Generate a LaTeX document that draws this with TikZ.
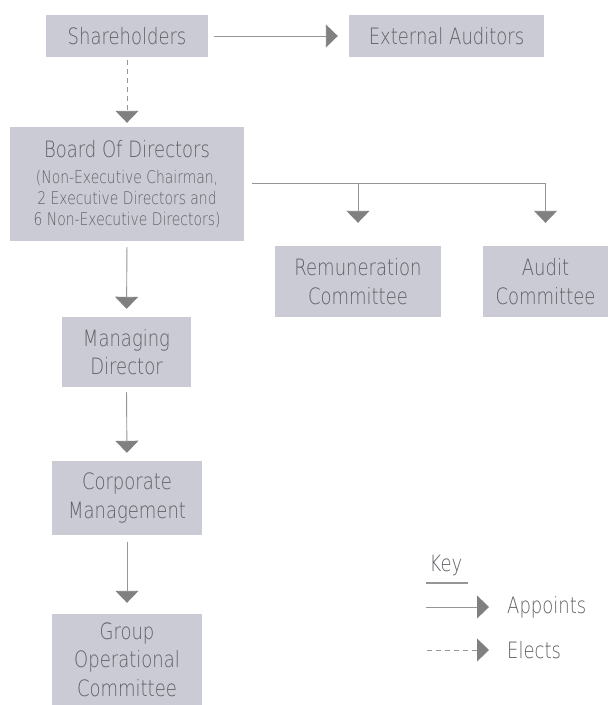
\documentclass[tikz,border=0pt]{standalone}
\usepackage{fontspec}
\setmainfont{DejaVu Sans}[UprightFont={* ExtraLight}, FakeStretch=0.8]
\usetikzlibrary{arrows.meta}
\definecolor{boxfill}{RGB}{203,203,213}
\definecolor{txt}{RGB}{95,95,100}
\definecolor{ln}{RGB}{150,150,150}
\definecolor{tipc}{RGB}{128,128,128}
\begin{document}
\begin{tikzpicture}[x=1pt,y=-1pt,
  box/.style={fill=boxfill, draw=none, inner sep=0pt, text=txt, align=center,
    font=\fontsize{22.5}{28.5}\selectfont},
  conn/.style={draw=ln, line width=0.9pt,
    -{Triangle[length=12pt,width=23pt,color=tipc]}},
  dashconn/.style={conn, dash pattern=on 5pt off 4pt},
  lbl/.style={text=txt, inner sep=0pt, font=\fontsize{22.5}{26}\selectfont}]
\useasboundingbox (0,0) rectangle (610,705);
\fill[white] (0,0) rectangle (610,705);

% boxes
\node[box, minimum width=162pt, minimum height=42pt] (sh) at (127,36) {Shareholders};
\node[box, minimum width=195pt, minimum height=42pt] (ext) at (446.5,36) {External Auditors};
\node[box, minimum width=234pt, minimum height=114pt, font=\fontsize{17.4}{20.7}\selectfont] (bod) at (127,184)
  {{\fontsize{22.5}{26}\selectfont Board Of Directors}\\[5.3pt](Non-Executive Chairman,\\2 Executive Directors and\\6 Non-Executive Directors)};
\node[box, minimum width=166pt, minimum height=71pt] (rem) at (358,281.5) {Remuneration\\Committee};
\node[box, minimum width=125pt, minimum height=71pt] (aud) at (545.5,281.5) {Audit\\Committee};
\node[box, minimum width=129pt, minimum height=70pt] (md) at (126.5,352) {Managing\\Director};
\node[box, minimum width=150pt, minimum height=74pt] (cm) at (127,498) {Corporate\\Management};
\node[box, minimum width=150pt, minimum height=91pt] (goc) at (127,659.5) {Group\\Operational\\Committee};

% connectors
\draw[conn, shorten <=6pt, shorten >=11pt] (sh.east) -- (ext.west);
\draw[dashconn, shorten <=3pt, shorten >=4pt] (sh.south) -- (bod.north);
\draw[conn, shorten <=6pt, shorten >=8pt] (bod.south) -- (md.north);
\draw[conn, shorten <=5pt, shorten >=8pt] (md.south) -- (cm.north);
\draw[conn, shorten <=7pt, shorten >=11pt] (cm.south) -- (goc.north);

\coordinate (br) at (252,183);
\draw[conn, shorten >=23pt] (br) -- (aud.north |- br) -- (aud.north);
\draw[conn, shorten >=23pt] (rem.north |- br) -- (rem.north);

% key
\node[lbl] (key) at (446,565) {Key};
\coordinate (u1) at (426,583);
\coordinate (u2) at (468,583);
\draw[draw=ln, line width=2.5pt] (u1) -- (u2);
\node[lbl, anchor=west] (appt) at (507,607) {Appoints};
\node[lbl, anchor=west] (elec) at (507,650) {Elects};
\coordinate (ka) at (426,607);
\coordinate (ke) at (427,650);
\draw[conn, shorten >=18pt] (ka) -- (appt.west);
\draw[dashconn, shorten >=18pt] (ke) -- (elec.west);
\end{tikzpicture}
\end{document}
